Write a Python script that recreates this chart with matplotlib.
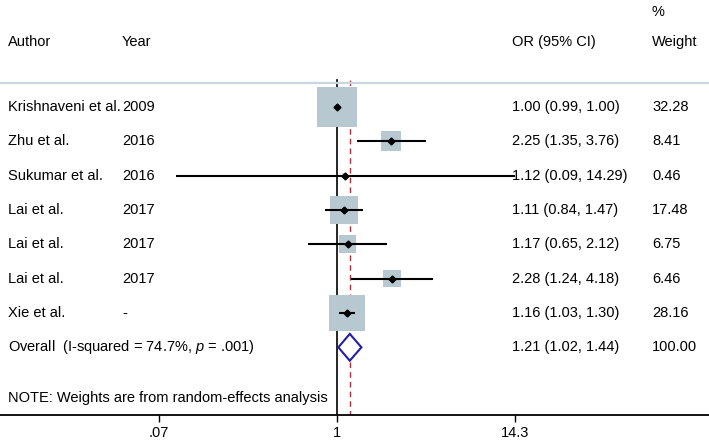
import numpy as np
import matplotlib.pyplot as plt
from matplotlib.patches import Polygon

plt.rcParams['font.family'] = ['Liberation Sans', 'DejaVu Sans']
plt.rcParams['mathtext.fontset'] = 'custom'
plt.rcParams['mathtext.it'] = 'Liberation Sans:italic'
plt.rcParams['mathtext.rm'] = 'Liberation Sans'

# study data
authors = ['Krishnaveni et al.', 'Zhu et al.', 'Sukumar et al.', 'Lai et al.',
           'Lai et al.', 'Lai et al.', 'Xie et al.']
years = ['2009', '2016', '2016', '2017', '2017', '2017', '-']
odds = [1.00, 2.25, 1.12, 1.11, 1.17, 2.28, 1.16]
ci_lo = [0.99, 1.35, 0.09, 0.84, 0.65, 1.24, 1.03]
ci_hi = [1.00, 3.76, 14.29, 1.47, 2.12, 4.18, 1.30]
weights = [32.28, 8.41, 0.46, 17.48, 6.75, 6.46, 28.16]

overall = 1.21
overall_lo = 1.02
overall_hi = 1.44
i2 = 74.7
pval = '.001'

xticks = [0.07, 1, 14.3]
xticklabels = ['.07', '1', '14.3']

W, H = 709, 440
fig = plt.figure(figsize=(W / 100, H / 100), dpi=100)
ax = fig.add_axes([0, 25 / H, 1, 415 / H])
ax.set_xscale('log')

# layout in pixels -> axis limits
px_dec = 154.3
x_one = 337.0
ax.set_xlim(10 ** (-x_one / px_dec), 10 ** ((W - x_one) / px_dec))
row_h = 34.33
row0 = 107.0
ax.set_ylim((415 - row0) / row_h, -row0 / row_h)

n = len(odds)
ys = np.arange(n)
y_over = n
fs = 10.5
tr = ax.get_yaxis_transform()  # x axes fraction, y data

def px2row(p):
    return (p - row0) / row_h

# header
ax.text(8 / W, px2row(42), 'Author', transform=tr, fontsize=fs, va='center')
ax.text(122 / W, px2row(42), 'Year', transform=tr, fontsize=fs, va='center')
ax.text(512 / W, px2row(42), 'OR (95% CI)', transform=tr, fontsize=fs, va='center')
ax.text(652 / W, px2row(42), 'Weight', transform=tr, fontsize=fs, va='center')
ax.text(652 / W, px2row(12), '%', transform=tr, fontsize=fs, va='center')
ax.axhline(px2row(83), color='#c9d7dc', lw=1.6)

# reference lines
top = px2row(80)
ax.plot([1, 1], [top, ax.get_ylim()[0]], color='black', lw=1.2, zorder=1)
ax.plot([overall, overall], [top, ax.get_ylim()[0]], color='#a8323e',
        lw=1.0, ls=(0, (4, 3)), zorder=1)

# boxes, CIs and points
side_pt = 6.9 * 0.72 * np.sqrt(weights)
ax.scatter(odds, ys, marker='s', s=side_pt ** 2, color='#b8c8d1',
           linewidths=0, zorder=2)
ax.hlines(ys, ci_lo, ci_hi, color='black', lw=1.5, zorder=3)
ax.plot(odds, ys, 'D', color='black', ms=3.5, zorder=4)

for i in range(n):
    ax.text(8 / W, i, authors[i], transform=tr, fontsize=fs, va='center')
    ax.text(122 / W, i, years[i], transform=tr, fontsize=fs, va='center')
    ax.text(512 / W, i, f'{odds[i]:.2f} ({ci_lo[i]:.2f}, {ci_hi[i]:.2f})',
            transform=tr, fontsize=fs, va='center')
    ax.text(652 / W, i, f'{weights[i]:.2f}', transform=tr, fontsize=fs, va='center')

# overall diamond
dh = 0.39
diamond = Polygon([(overall_lo, y_over), (overall, y_over - dh),
                   (overall_hi, y_over), (overall, y_over + dh)],
                  closed=True, facecolor='white', edgecolor='#1f1fa8', lw=1.5, zorder=3)
ax.add_patch(diamond)
ax.text(8 / W, y_over, 'Overall  (I-squared = %.1f%%, $\\it{p}$ = %s)' % (i2, pval),
        transform=tr, fontsize=fs, va='center')
ax.text(512 / W, y_over, f'{overall:.2f} ({overall_lo:.2f}, {overall_hi:.2f})',
        transform=tr, fontsize=fs, va='center')
ax.text(652 / W, y_over, f'{sum(weights):.2f}', transform=tr, fontsize=fs, va='center')

ax.text(8 / W, px2row(398), 'NOTE: Weights are from random-effects analysis',
        transform=tr, fontsize=fs, va='center')

# axis
for s in ['top', 'left', 'right']:
    ax.spines[s].set_visible(False)
ax.spines['bottom'].set_linewidth(1.3)
ax.set_yticks([])
ax.set_xticks(xticks)
ax.set_xticklabels(xticklabels, fontsize=fs)
ax.xaxis.set_minor_locator(plt.NullLocator())
ax.tick_params(axis='x', length=5, width=1, pad=3)

fig.savefig('out.png', dpi=100)
